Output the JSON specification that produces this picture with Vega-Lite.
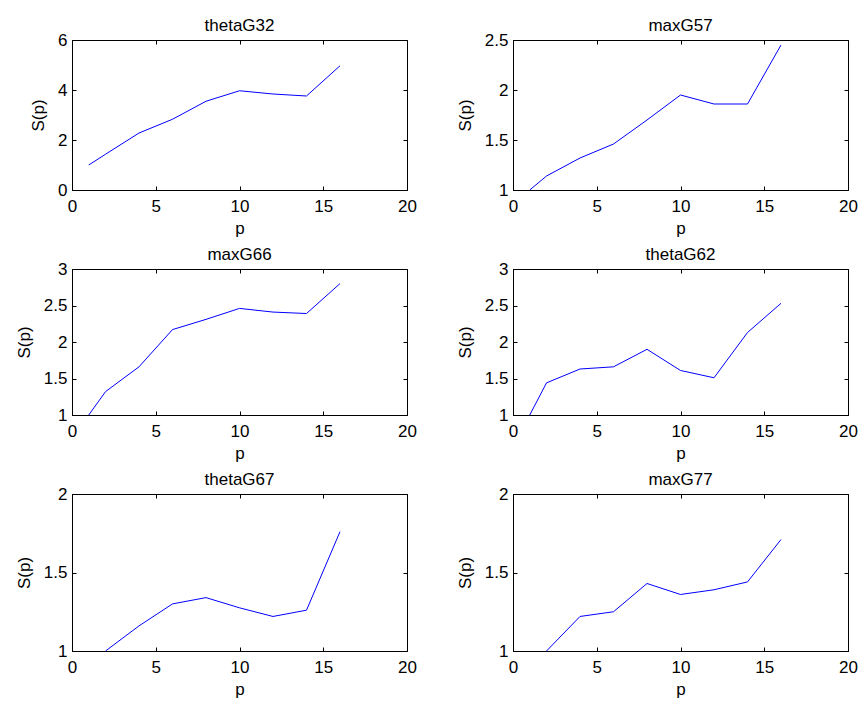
{
  "$schema": "https://vega.github.io/schema/vega-lite/v6.json",
  "background": "white",
  "padding": {"left": 14, "top": 16, "right": 5, "bottom": 2},
  "datasets": {
    "thetaG32": [
      {"p": 1, "S": 1.0}, {"p": 2, "S": 1.43}, {"p": 4, "S": 2.28}, {"p": 6, "S": 2.83},
      {"p": 8, "S": 3.55}, {"p": 10, "S": 3.97}, {"p": 12, "S": 3.84}, {"p": 14, "S": 3.76}, {"p": 16, "S": 4.97}
    ],
    "maxG57": [
      {"p": 1, "S": 1.0}, {"p": 2, "S": 1.14}, {"p": 4, "S": 1.32}, {"p": 6, "S": 1.46},
      {"p": 8, "S": 1.70}, {"p": 10, "S": 1.95}, {"p": 12, "S": 1.86}, {"p": 14, "S": 1.86}, {"p": 16, "S": 2.45}
    ],
    "maxG66": [
      {"p": 1, "S": 1.0}, {"p": 2, "S": 1.32}, {"p": 4, "S": 1.66}, {"p": 6, "S": 2.17},
      {"p": 8, "S": 2.31}, {"p": 10, "S": 2.46}, {"p": 12, "S": 2.41}, {"p": 14, "S": 2.39}, {"p": 16, "S": 2.80}
    ],
    "thetaG62": [
      {"p": 1, "S": 1.0}, {"p": 2, "S": 1.44}, {"p": 4, "S": 1.63}, {"p": 6, "S": 1.66},
      {"p": 8, "S": 1.90}, {"p": 10, "S": 1.61}, {"p": 12, "S": 1.51}, {"p": 14, "S": 2.13}, {"p": 16, "S": 2.53}
    ],
    "thetaG67": [
      {"p": 2, "S": 1.0}, {"p": 4, "S": 1.16}, {"p": 6, "S": 1.30},
      {"p": 8, "S": 1.34}, {"p": 10, "S": 1.275}, {"p": 12, "S": 1.22}, {"p": 14, "S": 1.26}, {"p": 16, "S": 1.76}
    ],
    "maxG77": [
      {"p": 2, "S": 1.0}, {"p": 4, "S": 1.22}, {"p": 6, "S": 1.25},
      {"p": 8, "S": 1.43}, {"p": 10, "S": 1.36}, {"p": 12, "S": 1.39}, {"p": 14, "S": 1.44}, {"p": 16, "S": 1.71}
    ]
  },
  "columns": 2,
  "spacing": {"row": 79, "column": 106},
  "bounds": "flush",
  "concat": [
    {
      "title": "thetaG32", "width": 335, "height": 150,
      "data": {"name": "thetaG32"},
      "layer": [
        {"mark": {"type": "line", "color": "#0000ff", "strokeWidth": 1, "clip": true},
         "encoding": {
           "x": {"field": "p", "type": "quantitative", "scale": {"domain": [0, 20], "nice": false, "zero": false}, "axis": {"values": [0, 5, 10, 15, 20], "title": "p"}},
           "y": {"field": "S", "type": "quantitative", "scale": {"domain": [0, 6], "nice": false, "zero": false}, "axis": {"values": [0, 2, 4, 6], "title": "S(p)", "format": "~g"}}
         }},
        {"mark": {"type": "line", "opacity": 0},
         "encoding": {
           "x": {"field": "p", "type": "quantitative", "scale": {"domain": [0, 20], "nice": false, "zero": false}, "axis": {"orient": "top", "values": [0, 5, 10, 15, 20], "labels": false, "domain": false, "title": null}},
           "y": {"field": "S", "type": "quantitative", "scale": {"domain": [0, 6], "nice": false, "zero": false}, "axis": {"orient": "right", "values": [0, 2, 4, 6], "labels": false, "domain": false, "title": null}}
         }}
      ],
      "resolve": {"axis": {"x": "independent", "y": "independent"}}
    },
    {
      "title": "maxG57", "width": 335, "height": 150,
      "data": {"name": "maxG57"},
      "layer": [
        {"mark": {"type": "line", "color": "#0000ff", "strokeWidth": 1, "clip": true},
         "encoding": {
           "x": {"field": "p", "type": "quantitative", "scale": {"domain": [0, 20], "nice": false, "zero": false}, "axis": {"values": [0, 5, 10, 15, 20], "title": "p"}},
           "y": {"field": "S", "type": "quantitative", "scale": {"domain": [1, 2.5], "nice": false, "zero": false}, "axis": {"values": [1, 1.5, 2, 2.5], "title": "S(p)", "format": "~g"}}
         }},
        {"mark": {"type": "line", "opacity": 0},
         "encoding": {
           "x": {"field": "p", "type": "quantitative", "scale": {"domain": [0, 20], "nice": false, "zero": false}, "axis": {"orient": "top", "values": [0, 5, 10, 15, 20], "labels": false, "domain": false, "title": null}},
           "y": {"field": "S", "type": "quantitative", "scale": {"domain": [1, 2.5], "nice": false, "zero": false}, "axis": {"orient": "right", "values": [1, 1.5, 2, 2.5], "labels": false, "domain": false, "title": null}}
         }}
      ],
      "resolve": {"axis": {"x": "independent", "y": "independent"}}
    },
    {
      "title": "maxG66", "width": 335, "height": 146,
      "data": {"name": "maxG66"},
      "layer": [
        {"mark": {"type": "line", "color": "#0000ff", "strokeWidth": 1, "clip": true},
         "encoding": {
           "x": {"field": "p", "type": "quantitative", "scale": {"domain": [0, 20], "nice": false, "zero": false}, "axis": {"values": [0, 5, 10, 15, 20], "title": "p"}},
           "y": {"field": "S", "type": "quantitative", "scale": {"domain": [1, 3], "nice": false, "zero": false}, "axis": {"values": [1, 1.5, 2, 2.5, 3], "title": "S(p)", "format": "~g"}}
         }},
        {"mark": {"type": "line", "opacity": 0},
         "encoding": {
           "x": {"field": "p", "type": "quantitative", "scale": {"domain": [0, 20], "nice": false, "zero": false}, "axis": {"orient": "top", "values": [0, 5, 10, 15, 20], "labels": false, "domain": false, "title": null}},
           "y": {"field": "S", "type": "quantitative", "scale": {"domain": [1, 3], "nice": false, "zero": false}, "axis": {"orient": "right", "values": [1, 1.5, 2, 2.5, 3], "labels": false, "domain": false, "title": null}}
         }}
      ],
      "resolve": {"axis": {"x": "independent", "y": "independent"}}
    },
    {
      "title": "thetaG62", "width": 335, "height": 146,
      "data": {"name": "thetaG62"},
      "layer": [
        {"mark": {"type": "line", "color": "#0000ff", "strokeWidth": 1, "clip": true},
         "encoding": {
           "x": {"field": "p", "type": "quantitative", "scale": {"domain": [0, 20], "nice": false, "zero": false}, "axis": {"values": [0, 5, 10, 15, 20], "title": "p"}},
           "y": {"field": "S", "type": "quantitative", "scale": {"domain": [1, 3], "nice": false, "zero": false}, "axis": {"values": [1, 1.5, 2, 2.5, 3], "title": "S(p)", "format": "~g"}}
         }},
        {"mark": {"type": "line", "opacity": 0},
         "encoding": {
           "x": {"field": "p", "type": "quantitative", "scale": {"domain": [0, 20], "nice": false, "zero": false}, "axis": {"orient": "top", "values": [0, 5, 10, 15, 20], "labels": false, "domain": false, "title": null}},
           "y": {"field": "S", "type": "quantitative", "scale": {"domain": [1, 3], "nice": false, "zero": false}, "axis": {"orient": "right", "values": [1, 1.5, 2, 2.5, 3], "labels": false, "domain": false, "title": null}}
         }}
      ],
      "resolve": {"axis": {"x": "independent", "y": "independent"}}
    },
    {
      "title": "thetaG67", "width": 335, "height": 157,
      "data": {"name": "thetaG67"},
      "layer": [
        {"mark": {"type": "line", "color": "#0000ff", "strokeWidth": 1, "clip": true},
         "encoding": {
           "x": {"field": "p", "type": "quantitative", "scale": {"domain": [0, 20], "nice": false, "zero": false}, "axis": {"values": [0, 5, 10, 15, 20], "title": "p"}},
           "y": {"field": "S", "type": "quantitative", "scale": {"domain": [1, 2], "nice": false, "zero": false}, "axis": {"values": [1, 1.5, 2], "title": "S(p)", "format": "~g"}}
         }},
        {"mark": {"type": "line", "opacity": 0},
         "encoding": {
           "x": {"field": "p", "type": "quantitative", "scale": {"domain": [0, 20], "nice": false, "zero": false}, "axis": {"orient": "top", "values": [0, 5, 10, 15, 20], "labels": false, "domain": false, "title": null}},
           "y": {"field": "S", "type": "quantitative", "scale": {"domain": [1, 2], "nice": false, "zero": false}, "axis": {"orient": "right", "values": [1, 1.5, 2], "labels": false, "domain": false, "title": null}}
         }}
      ],
      "resolve": {"axis": {"x": "independent", "y": "independent"}}
    },
    {
      "title": "maxG77", "width": 335, "height": 157,
      "data": {"name": "maxG77"},
      "layer": [
        {"mark": {"type": "line", "color": "#0000ff", "strokeWidth": 1, "clip": true},
         "encoding": {
           "x": {"field": "p", "type": "quantitative", "scale": {"domain": [0, 20], "nice": false, "zero": false}, "axis": {"values": [0, 5, 10, 15, 20], "title": "p"}},
           "y": {"field": "S", "type": "quantitative", "scale": {"domain": [1, 2], "nice": false, "zero": false}, "axis": {"values": [1, 1.5, 2], "title": "S(p)", "format": "~g"}}
         }},
        {"mark": {"type": "line", "opacity": 0},
         "encoding": {
           "x": {"field": "p", "type": "quantitative", "scale": {"domain": [0, 20], "nice": false, "zero": false}, "axis": {"orient": "top", "values": [0, 5, 10, 15, 20], "labels": false, "domain": false, "title": null}},
           "y": {"field": "S", "type": "quantitative", "scale": {"domain": [1, 2], "nice": false, "zero": false}, "axis": {"orient": "right", "values": [1, 1.5, 2], "labels": false, "domain": false, "title": null}}
         }}
      ],
      "resolve": {"axis": {"x": "independent", "y": "independent"}}
    }
  ],
  "config": {
    "font": "Liberation Sans",
    "view": {"stroke": "#000000", "strokeWidth": 1},
    "axis": {
      "grid": false,
      "domainColor": "#000000",
      "domainWidth": 1,
      "tickColor": "#000000",
      "tickSize": -4,
      "labelColor": "#000000",
      "titleColor": "#000000",
      "labelFont": "Liberation Sans",
      "titleFont": "Liberation Sans",
      "labelFontSize": 17,
      "titleFontSize": 17,
      "titleFontWeight": "normal",
      "labelFlush": false,
      "labelOverlap": false
    },
    "axisX": {"labelPadding": 12, "titlePadding": 6},
    "axisY": {"labelPadding": 9, "titlePadding": 10},
    "title": {"font": "Liberation Sans", "fontSize": 17, "fontWeight": "normal", "color": "#000000", "offset": -4}
  }
}
